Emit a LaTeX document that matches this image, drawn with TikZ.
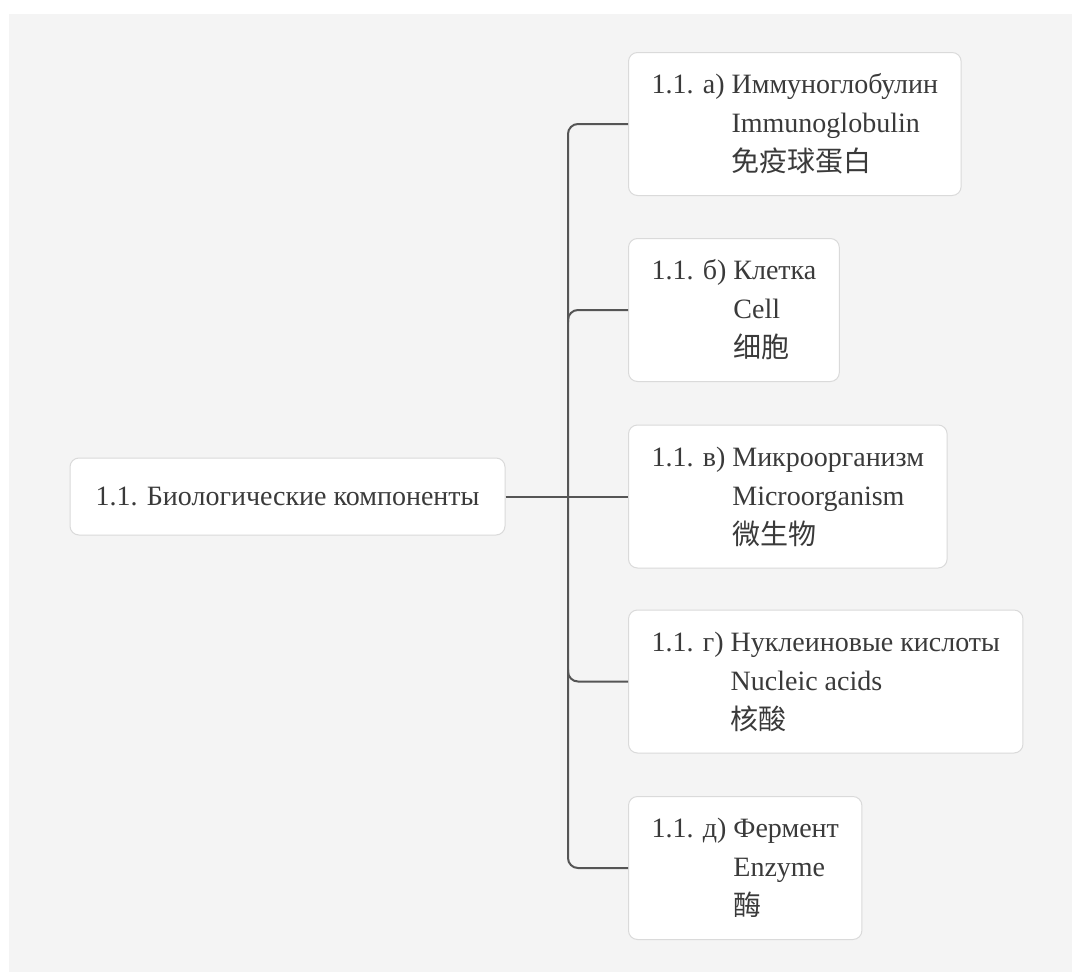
\documentclass[tikz,border=0pt]{standalone}
\usepackage{fontspec}
\setmainfont{Liberation Serif}
\newfontfamily\cjk{Noto Sans CJK SC}
\usetikzlibrary{calc}
\begin{document}
\begin{tikzpicture}[x=1pt,y=-1pt,
  box/.style={draw=boxline, fill=white, rounded corners=9pt, line width=1pt,
    text=txt, font=\fontsize{28}{39}\selectfont},
  kid/.style={box, anchor=west, align=left, inner xsep=23pt, minimum height=143pt},
  link/.style={draw=linkc, line width=2pt, rounded corners=10pt}]
\definecolor{bg}{HTML}{F4F4F4}
\definecolor{boxline}{HTML}{DADADA}
\definecolor{txt}{HTML}{3A3A3A}
\definecolor{linkc}{HTML}{555555}
\useasboundingbox (0,0) rectangle (1072,972);
\fill[white] (0,0) rectangle (1072,972);
\fill[bg] (9,14) rectangle (1072,972);
\node[box, minimum width=435pt, minimum height=77pt] (root) at (287.5,496.5) {1.1. Биологические компоненты};
\node[kid] (a) at (628,124) {1.1. а) Иммуноглобулин\\\hphantom{1.1. а) }Immunoglobulin\\\hphantom{1.1. а) }{\cjk 免疫球蛋白}};
\node[kid] (b) at (628,310) {1.1. б) Клетка\\\hphantom{1.1. б) }Cell\\\hphantom{1.1. б) }{\cjk 细胞}};
\node[kid] (c) at (628,496.5) {1.1. в) Микроорганизм\\\hphantom{1.1. в) }Microorganism\\\hphantom{1.1. в) }{\cjk 微生物}};
\node[kid] (d) at (628,681.5) {1.1. г) Нуклеиновые кислоты\\\hphantom{1.1. г) }Nucleic acids\\\hphantom{1.1. г) }{\cjk 核酸}};
\node[kid] (e) at (628,868) {1.1. д) Фермент\\\hphantom{1.1. д) }Enzyme\\\hphantom{1.1. д) }{\cjk 酶}};
\coordinate (j) at (568,496.5);
\draw[link] (root.east) -- (c.west);
\draw[link] (a.west) -- (j |- a.west) -- (j |- e.west) -- (e.west);
\draw[link] ($(j |- b.west)+(0,12)$) -- (j |- b.west) -- (b.west);
\draw[link] ($(j |- d.west)+(0,-12)$) -- (j |- d.west) -- (d.west);
\end{tikzpicture}
\end{document}
